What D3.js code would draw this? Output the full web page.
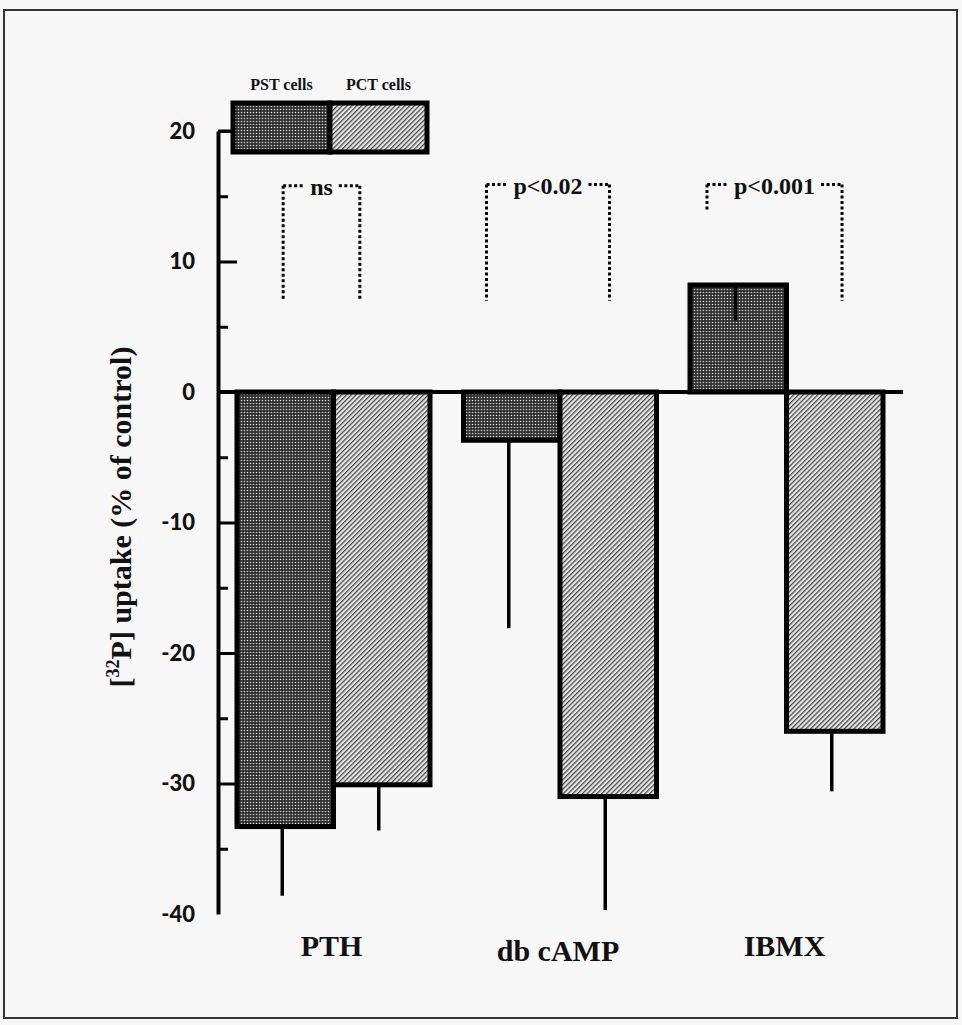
<!DOCTYPE html>
<html>
<head>
<meta charset="utf-8">
<script src="https://cdn.jsdelivr.net/npm/d3@7"></script>
<style>
    body { margin: 0; background: #f6f6f6; }
    svg { display: block; }
</style>
</head>
<body>
<div class="chart"></div>
<script>
// values
const categories = ["PTH", "db cAMP", "IBMX"];
const series = ["PST cells", "PCT cells"];
const pstMeans = [-33.3, -3.7, 8.2];
const pstSem = [5.3, 14.4, 2.7];
const pctMeans = [-30.1, -31.0, -26.0];
const pctSem = [3.5, 8.7, 4.6];
const majorTicks = [20, 10, 0, -10, -20, -30, -40];
const minorTicks = [15, 5, -5, -15, -25, -35];
const bracketLabels = ["ns", "p<0.02", "p<0.001"];
const bracketTop = [15.8, 15.9, 15.9];
const bracketLeftEnd = [7.0, 7.0, 13.8];
const bracketRightEnd = [7.0, 7.0, 7.0];

const width = 962;
const height = 1025;

const svg = d3.select(".chart")
    .append("svg")
    .attr("width", width)
    .attr("height", height);

svg.append("rect")
    .attr("x", 4).attr("y", 10)
    .attr("width", 953).attr("height", 1008)
    .attr("fill", "#f7f7f7")
    .attr("stroke", "#333")
    .attr("stroke-width", 2);

const defs = svg.append("defs");

// halftone dots for PST
const dots = defs.append("pattern")
    .attr("id", "dots")
    .attr("patternUnits", "userSpaceOnUse")
    .attr("width", 3).attr("height", 3);
dots.append("rect").attr("width", 3).attr("height", 3).attr("fill", "#303030");
dots.append("circle").attr("cx", 1.5).attr("cy", 1.5).attr("r", 0.8).attr("fill", "#cfcfcf");

// diagonal hatch for PCT
const hatch = defs.append("pattern")
    .attr("id", "hatch")
    .attr("patternUnits", "userSpaceOnUse")
    .attr("width", 3.4).attr("height", 3.4)
    .attr("patternTransform", "rotate(45)");
hatch.append("rect").attr("width", 3.4).attr("height", 3.4).attr("fill", "#e6e6e6");
hatch.append("line")
    .attr("x1", 0.6).attr("y1", 0).attr("x2", 0.6).attr("y2", 3.4)
    .attr("stroke", "#484848").attr("stroke-width", 1.3);

const fills = { "PST cells": "url(#dots)", "PCT cells": "url(#hatch)" };

const y = d3.scaleLinear().domain([20, -40]).range([131, 914]);
const x = d3.scaleBand().domain(categories).range([237, 883]).paddingInner(0.148).paddingOuter(0);
const xs = d3.scaleBand().domain(series).range([0, x.bandwidth()]);

const data = categories.flatMap((c, i) => [
    { cat: c, s: series[0], v: pstMeans[i], e: pstSem[i] },
    { cat: c, s: series[1], v: pctMeans[i], e: pctSem[i] }
]);

const axisX = 218;

// bars
svg.append("g")
    .selectAll("rect")
    .data(data)
    .join("rect")
    .attr("x", d => x(d.cat) + xs(d.s))
    .attr("y", d => Math.min(y(d.v), y(0)))
    .attr("width", xs.bandwidth())
    .attr("height", d => Math.abs(y(d.v) - y(0)))
    .attr("fill", d => fills[d.s])
    .attr("stroke", "#000")
    .attr("stroke-width", 5);

// error bars (drawn downward from the mean)
svg.append("g")
    .selectAll("line")
    .data(data)
    .join("line")
    .attr("x1", d => x(d.cat) + xs(d.s) + xs.bandwidth() / 2 - 3)
    .attr("x2", d => x(d.cat) + xs(d.s) + xs.bandwidth() / 2 - 3)
    .attr("y1", d => y(d.v))
    .attr("y2", d => y(d.v - d.e))
    .attr("stroke", "#000")
    .attr("stroke-width", 3.5);

// zero line
svg.append("line")
    .attr("x1", axisX).attr("x2", 903)
    .attr("y1", y(0)).attr("y2", y(0))
    .attr("stroke", "#000")
    .attr("stroke-width", 4);

// y axis
const yAxis = svg.append("g")
    .attr("transform", `translate(${axisX},0)`)
    .call(d3.axisLeft(y)
        .tickValues(majorTicks)
        .tickFormat(d => String(d))
        .tickSizeInner(-19)
        .tickSizeOuter(0)
        .tickPadding(23));

yAxis.select(".domain").attr("stroke", "#000").attr("stroke-width", 4);
yAxis.selectAll(".tick line")
    .attr("stroke", "#000")
    .attr("stroke-width", 3)
    .attr("display", d => d === -40 ? "none" : null);
yAxis.selectAll(".tick text")
    .attr("fill", "#111")
    .style("font-family", "Lato, 'DejaVu Sans', sans-serif")
    .style("font-weight", "900")
    .style("font-size", "22px");

const yMinor = svg.append("g")
    .attr("transform", `translate(${axisX},0)`)
    .call(d3.axisLeft(y)
        .tickValues(minorTicks)
        .tickFormat("")
        .tickSizeInner(-10)
        .tickSizeOuter(0));
yMinor.select(".domain").remove();
yMinor.selectAll(".tick line").attr("stroke", "#000").attr("stroke-width", 3);

// y label
const ylab = svg.append("text")
    .attr("transform", "translate(131,517) rotate(-90)")
    .attr("text-anchor", "middle")
    .style("font-family", "'Liberation Serif', 'Times New Roman', serif")
    .style("font-weight", "bold")
    .style("font-size", "30px")
    .attr("fill", "#111");
ylab.append("tspan").text("[");
ylab.append("tspan").attr("dy", -12).style("font-size", "18px").text("32");
ylab.append("tspan").attr("dy", 12).text("P] uptake (% of control)");

// category labels
svg.append("g")
    .selectAll("text")
    .data(categories)
    .join("text")
    .attr("x", d => x(d) + x.bandwidth() / 2 - 2)
    .attr("y", (d, i) => i === 1 ? 961 : 956)
    .attr("text-anchor", "middle")
    .style("font-family", "'Liberation Serif', 'Times New Roman', serif")
    .style("font-weight", "bold")
    .style("font-size", "30px")
    .attr("fill", "#111")
    .text(d => d);

// significance brackets
const brackets = svg.append("g");
categories.forEach((c, i) => {
    const cx = x(c) + x.bandwidth() / 2 - 12;
    const ty = y(bracketTop[i]);
    const t = brackets.append("text")
        .attr("x", cx)
        .attr("y", ty + 9)
        .attr("text-anchor", "middle")
        .style("font-family", "'Liberation Serif', 'Times New Roman', serif")
        .style("font-weight", "bold")
        .style("font-size", "24px")
        .attr("fill", "#111")
        .text(bracketLabels[i]);
    const w = t.node().getComputedTextLength();
    const pad = 27;
    const xl = cx - w / 2 - pad;
    const xr = cx + w / 2 + pad;
    const seg = [
        [xl, ty, cx - w / 2 - 6, ty],
        [cx + w / 2 + 6, ty, xr, ty],
        [xl, ty, xl, y(bracketLeftEnd[i])],
        [xr, ty, xr, y(bracketRightEnd[i])]
    ];
    brackets.selectAll(null)
        .data(seg)
        .join("line")
        .attr("x1", d => d[0]).attr("y1", d => d[1])
        .attr("x2", d => d[2]).attr("y2", d => d[3])
        .attr("stroke", "#000")
        .attr("stroke-width", 3)
        .attr("stroke-dasharray", "3 2.5");
});

// legend
const legX = 233, legY = 103, legW = 194, legH = 49;
svg.append("line")
    .attr("x1", axisX).attr("x2", legX)
    .attr("y1", y(20)).attr("y2", y(20))
    .attr("stroke", "#000").attr("stroke-width", 3);

const legend = svg.append("g");
legend.selectAll("rect")
    .data(series)
    .join("rect")
    .attr("x", (d, i) => legX + i * legW / 2)
    .attr("y", legY)
    .attr("width", legW / 2)
    .attr("height", legH)
    .attr("fill", d => fills[d])
    .attr("stroke", "#000")
    .attr("stroke-width", 5);

legend.selectAll("text")
    .data(series)
    .join("text")
    .attr("x", (d, i) => legX + i * legW / 2 + legW / 4)
    .attr("y", 90)
    .attr("text-anchor", "middle")
    .style("font-family", "'Liberation Serif', 'Times New Roman', serif")
    .style("font-weight", "bold")
    .style("font-size", "16px")
    .attr("fill", "#111")
    .text(d => d);
</script>
</body>
</html>
